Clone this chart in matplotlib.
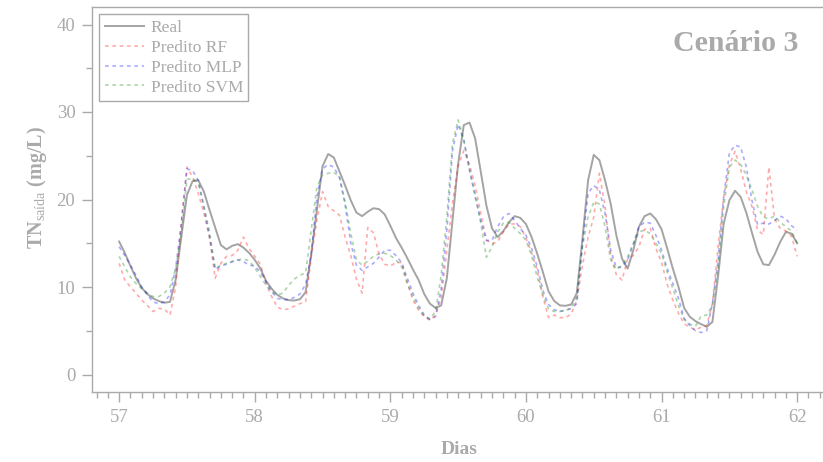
import matplotlib
matplotlib.use("Agg")
import matplotlib.pyplot as plt
import numpy as np

# horas desde o inicio do dia 57 (amostragem horaria)
horas = np.arange(121)
dias = 57 + horas / 24

real = [15.2, 13.9, 12.4, 11.0, 9.9, 9.2, 8.7, 8.4, 8.2, 8.3, 10.8, 15.7, 20.5, 22.1, 22.2, 20.9,
        18.8, 16.8, 14.8, 14.3, 14.7, 14.9, 14.5, 13.9, 13.1,
        12.1, 10.7, 9.8, 9.1, 8.7, 8.5, 8.45, 8.6, 9.4, 13.8, 18.8, 23.8, 25.2, 24.8, 23.2, 21.6,
        19.9, 18.5, 18.1, 18.6, 19.0, 18.9, 18.3, 17.0, 15.6, 14.5,
        13.3, 12.0, 10.8, 9.2, 8.1, 7.6, 7.9, 11.0, 17.6, 24.1, 28.5, 28.8, 27.0, 23.2, 19.3,
        16.7, 15.7, 16.4, 17.4, 18.1, 17.9, 17.2, 15.7, 13.8, 11.7, 9.5,
        8.4, 7.9, 7.85, 8.0, 9.3, 15.5, 22.2, 25.1, 24.5, 22.2, 19.5, 15.9, 13.25, 12.1, 14.2,
        16.9, 18.1, 18.4, 17.75, 16.6, 14.4, 12.1, 10.0, 7.6,
        6.6, 6.1, 5.75, 5.45, 6.0, 11.2, 17.25, 19.9, 21.0, 20.3, 18.5, 16.2, 14.0, 12.6, 12.5,
        13.7, 15.15, 16.3, 16.1, 15.0]

pred_rf = [12.7, 10.8, 10.0, 9.3, 8.5, 7.9, 7.2, 7.55, 7.5, 6.8, 10.0, 17.3, 23.7, 22.6, 20.7, 18.4,
           15.7, 11.0, 12.7, 13.5, 13.6, 14.2, 15.7, 14.4, 13.5,
           12.6, 10.4, 8.9, 7.7, 7.4, 7.5, 7.8, 8.1, 8.3, 13.4, 17.6, 20.9, 19.2, 18.7, 18.2, 15.7,
           13.6, 10.9, 9.3, 16.8, 16.2, 13.8, 12.6, 12.4, 12.8, 12.8,
           10.5, 8.5, 7.35, 6.6, 6.2, 6.8, 8.8, 14.2, 19.6, 23.8, 25.6, 24.0, 21.6, 18.4, 15.4,
           14.9, 15.2, 16.3, 17.2, 17.2, 16.9, 15.6, 13.9, 11.9, 8.9, 6.5,
           6.8, 6.5, 6.5, 6.9, 8.5, 12.5, 15.7, 18.0, 23.0, 19.2, 13.6, 11.4, 10.8, 13.2, 13.6,
           14.6, 16.6, 16.7, 14.4, 12.8, 10.3, 8.5, 7.0, 5.8,
           5.4, 5.1, 5.4, 5.6, 8.1, 14.6, 20.3, 23.9, 25.5, 23.5, 20.9, 19.2, 16.5, 16.0, 23.7,
           17.8, 16.7, 16.4, 15.8, 13.5]

pred_mlp = [14.6, 13.6, 12.5, 11.3, 10.0, 9.1, 8.3, 8.1, 8.3, 9.1, 12.1, 17.2, 23.5, 23.3, 22.2, 19.2,
            15.7, 12.0, 12.4, 12.6, 12.9, 13.1, 12.9, 12.5, 12.4,
            11.7, 10.6, 9.5, 8.7, 8.55, 8.55, 8.8, 9.2, 10.3, 13.6, 20.3, 23.5, 24.0, 23.7, 22.5, 19.4,
            15.0, 12.5, 11.9, 12.3, 12.7, 13.4, 14.2, 14.2, 13.6, 12.8,
            11.0, 9.3, 7.9, 6.8, 6.3, 6.6, 9.8, 16.5, 25.6, 28.6, 26.8, 23.5, 20.3, 17.6, 15.3,
            15.35, 16.9, 18.0, 18.4, 17.6, 16.7, 15.9, 14.4, 12.3, 9.6, 8.0,
            7.4, 7.2, 7.35, 7.55, 8.1, 14.9, 20.7, 21.6, 21.1, 18.4, 14.2, 12.2, 12.3, 13.1, 14.9,
            16.9, 17.4, 17.3, 15.9, 14.2, 12.1, 10.4, 8.7, 6.4,
            5.6, 5.0, 4.8, 5.0, 8.1, 13.0, 20.3, 25.3, 26.2, 26.0, 23.7, 19.9, 17.1, 17.3, 17.2,
            17.6, 18.1, 17.8, 17.0, 16.5]

pred_svm = [13.5, 12.3, 11.15, 10.4, 9.8, 9.3, 8.9, 8.9, 9.3, 10.0, 12.1, 16.1, 22.3, 22.4, 21.9, 19.2,
            16.3, 12.1, 12.5, 12.7, 12.9, 13.1, 13.2, 13.0, 12.2,
            11.2, 10.2, 9.45, 9.1, 9.3, 10.2, 10.9, 11.35, 11.6, 16.5, 21.4, 22.8, 23.0, 23.1, 22.6, 19.7,
            16.1, 13.1, 12.5, 12.95, 13.5, 13.8, 13.85, 13.6, 13.1, 12.3,
            10.4, 8.9, 7.6, 6.7, 6.35, 7.2, 11.35, 18.0, 26.4, 29.1, 26.8, 23.3, 20.7, 17.3, 13.4,
            14.6, 16.3, 17.3, 17.4, 16.7, 16.1, 15.35, 13.6, 11.1, 9.1, 7.5,
            7.2, 7.2, 7.35, 7.55, 8.9, 14.6, 18.0, 19.7, 19.5, 16.9, 13.1, 12.0, 12.5, 13.45, 15.0,
            16.3, 16.5, 16.1, 15.0, 13.8, 11.7, 9.8, 7.9, 6.3,
            5.75, 5.5, 6.7, 6.8, 7.9, 12.3, 19.2, 23.7, 24.5, 24.0, 22.8, 21.1, 19.2, 18.0, 17.8,
            18.1, 17.4, 16.9, 16.4, 15.0]

cinza = '#aaaaaa'
plt.rcParams['font.family'] = ['Liberation Serif', 'DejaVu Serif']
plt.rcParams['mathtext.fontset'] = 'custom'
plt.rcParams['mathtext.rm'] = 'Liberation Serif'
plt.rcParams['mathtext.bf'] = 'Liberation Serif:bold'

fig = plt.figure(figsize=(8.23, 4.62), dpi=100)
ax = fig.add_axes([92 / 823, 70 / 462, 735 / 823, 385 / 462])

ax.plot(dias, real, color='#a4a4a4', lw=1.4, label='Real')
ax.plot(dias, pred_rf, color='red', alpha=0.33, lw=1.2, dashes=(2.2, 2.2), label='Predito RF')
ax.plot(dias, pred_mlp, color='blue', alpha=0.33, lw=1.2, dashes=(2.2, 2.2), label='Predito MLP')
ax.plot(dias, pred_svm, color='green', alpha=0.33, lw=1.2, dashes=(2.2, 2.2), label='Predito SVM')

ax.set_xlim(56.8, 62.22)
ax.set_ylim(-2, 42)
ax.set_xticks([57, 58, 59, 60, 61, 62])
ax.set_xticks(57 + np.arange(-2, 63) / 12, minor=True)
ax.set_yticks([0, 10, 20, 30, 40])
ax.set_yticks([5, 15, 25, 35], minor=True)

for s in ['left', 'bottom', 'top']:
    ax.spines[s].set_color(cinza)
    ax.spines[s].set_linewidth(1.0)
ax.spines['right'].set_visible(False)
ax.tick_params(which='major', length=7, width=1, color=cinza, labelcolor=cinza, labelsize=13.5, pad=5)
ax.tick_params(which='minor', length=4, width=1, color=cinza)

ax.set_xlabel('Dias', fontsize=14, fontweight='bold', color=cinza, labelpad=11)
ax.set_ylabel(r'TN$_{\mathrm{saída}}$ (mg/L)', fontsize=14.5, fontweight='bold', color=cinza)
ax.yaxis.set_label_coords(-0.058, 0.53)

ax.text(0.9605, 0.8865, 'Cenário 3', transform=ax.transAxes, ha='right', va='baseline',
        fontsize=21.5, fontweight='bold', color=cinza)

leg = ax.legend(loc='upper left', fontsize=12.5, frameon=True, fancybox=False, framealpha=1,
                edgecolor=cinza, labelspacing=0.22, handlelength=2.3, handletextpad=0.35,
                borderaxespad=0.42, borderpad=0.3)
leg.get_frame().set_linewidth(1.0)
for t in leg.get_texts():
    t.set_color(cinza)

fig.savefig('out.png', dpi=100)
